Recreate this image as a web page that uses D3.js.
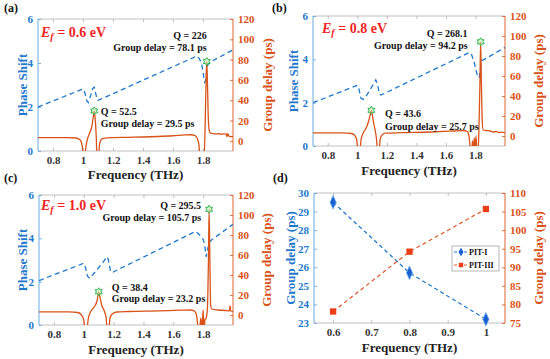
<!DOCTYPE html>
<html><head><meta charset="utf-8">
<script src="https://cdn.jsdelivr.net/npm/d3@7"></script>
<style>body{margin:0;background:#fff}svg{display:block}</style>
</head><body>
<svg id="c" width="550" height="359"></svg>
<script>
// ---------------- DATA ----------------
const freqTicks = [0.8, 1.0, 1.2, 1.4, 1.6, 1.8];
const phaseTicks = [0, 2, 4, 6];
const gdTicks = [0, 20, 40, 60, 80, 100, 120];

// Panel (a) Ef = 0.6 eV
const fA_ph = [0.70, 1.00, 1.01, 1.025, 1.035, 1.05, 1.065, 1.075, 1.085, 1.095, 1.10, 1.76, 1.775, 1.79, 1.80, 1.81, 1.818, 1.826, 1.835, 1.85, 2.00];
const phA   = [2.00, 2.82, 2.70, 2.30, 2.20, 2.50, 2.85, 2.90, 2.60, 2.35, 2.30, 4.32, 4.20, 4.00, 3.60, 3.12, 3.20, 3.80, 3.95, 4.05, 4.60];
const fA_gd = [0.70, 0.80, 0.90, 0.95, 0.97, 0.985, 0.995, 1.003, 1.012, 1.02, 1.03, 1.045, 1.06, 1.068, 1.075, 1.082, 1.088, 1.093, 1.103, 1.11, 1.12, 1.135, 1.20, 1.30, 1.40, 1.50, 1.60, 1.68, 1.72, 1.745, 1.76, 1.772, 1.78, 1.80, 1.808, 1.815, 1.82, 1.825, 1.83, 1.836, 1.842, 1.85, 1.88, 1.90, 1.92, 1.94, 1.955, 1.96, 1.965, 1.975, 2.00];
const gdA   = [3.2, 3.2, 3.1, 2.8, 2.0, 0, -5, -15, -15, -5, 2, 8, 15, 23, 29.5, 20, 5, -15, -15, -4, 1, 2.5, 3.2, 3.5, 3.8, 4.3, 5.0, 5.8, 6.0, 5.5, 3, -3, -15, -15, -15, 20, 55, 78.1, 55, 20, 10, 7.5, 6.8, 7.0, 6.5, 6.8, 6.5, 4, 7, 4.5, 4.2];

// Panel (b) Ef = 0.8 eV
const fB_ph = [0.70, 1.00, 1.01, 1.025, 1.04, 1.06, 1.10, 1.125, 1.135, 1.15, 1.16, 1.76, 1.775, 1.79, 1.80, 1.815, 1.825, 1.835, 1.845, 1.86, 2.00];
const phB   = [2.00, 2.80, 2.65, 2.20, 2.15, 2.30, 2.75, 3.05, 2.90, 2.40, 2.35, 4.32, 4.20, 3.90, 3.60, 3.20, 3.15, 3.60, 3.95, 4.00, 4.55];
const fB_gd = [0.70, 0.90, 0.96, 0.98, 0.995, 1.005, 1.018, 1.025, 1.04, 1.06, 1.075, 1.087, 1.095, 1.103, 1.112, 1.122, 1.13, 1.137, 1.148, 1.155, 1.17, 1.19, 1.30, 1.50, 1.65, 1.72, 1.745, 1.755, 1.762, 1.768, 1.775, 1.78, 1.786, 1.792, 1.798, 1.804, 1.81, 1.818, 1.824, 1.83, 1.835, 1.84, 1.846, 1.852, 1.87, 1.90, 1.92, 1.94, 1.96, 1.98, 2.00];
const gdB   = [3.2, 3.1, 2.5, 1, -3, -15, -15, -4, 3, 8, 14, 21, 25.7, 20, 12, 5, -3, -15, -15, -3, 1.5, 2.8, 3.3, 4.0, 5.0, 5.5, 4.5, 1, -8, -15, -15, -5, -15, -2, -15, 0, -15, -15, 10, 50, 94.2, 55, 15, 6, 5.5, 5.0, 4.0, 4.5, 3.5, 3.8, 3.0];

// Panel (c) Ef = 1.0 eV
const fC_ph = [0.70, 1.00, 1.01, 1.025, 1.04, 1.07, 1.13, 1.155, 1.165, 1.18, 1.19, 1.75, 1.77, 1.80, 1.81, 1.82, 1.83, 1.845, 1.86, 2.00];
const phC   = [2.05, 2.85, 2.70, 2.25, 2.15, 2.40, 2.90, 3.15, 3.00, 2.45, 2.42, 4.32, 4.20, 3.95, 3.70, 3.15, 3.50, 3.85, 3.95, 4.65];
const fC_gd = [0.70, 0.90, 0.96, 0.985, 1.00, 1.008, 1.02, 1.03, 1.045, 1.07, 1.09, 1.097, 1.10, 1.107, 1.12, 1.14, 1.15, 1.157, 1.168, 1.175, 1.19, 1.22, 1.30, 1.50, 1.65, 1.72, 1.745, 1.755, 1.762, 1.768, 1.775, 1.785, 1.792, 1.80, 1.806, 1.812, 1.82, 1.828, 1.835, 1.84, 1.845, 1.85, 1.858, 1.90, 1.95, 1.975, 1.98, 1.985, 2.00];
const gdC   = [3.2, 3.1, 2.5, 0, -5, -15, -15, -4, 3, 8, 15, 21, 23.2, 19, 10, 3, -3, -15, -15, -4, 1, 3, 3.5, 4.2, 4.8, 5.0, 3.5, 0, -8, -15, -15, -3, -15, 5, -15, -5, -3, 5, 50, 105.7, 55, 10, 6, 5, 4.5, 4, 9, 4, 3.5];

// resonance markers and annotations
const resA = [{f: 1.075, gd: 29.5, q: "52.5"}, {f: 1.825, gd: 78.1, q: "226"}];
const resB = [{f: 1.095, gd: 25.7, q: "43.6"}, {f: 1.835, gd: 94.2, q: "268.1"}];
const resC = [{f: 1.10, gd: 23.2, q: "38.4"}, {f: 1.84, gd: 105.7, q: "295.5"}];

// Panel (d)
const freqD = [0.6, 0.8, 1.0];
const pit1 = [29.5, 25.7, 23.2];
const pit3 = [78.1, 94.2, 105.7];
const freqTicksD = [0.6, 0.7, 0.8, 0.9, 1.0];
const leftTicksD = [23, 24, 25, 26, 27, 28, 29, 30];
const rightTicksD = [75, 80, 85, 90, 95, 100, 105, 110];

// ---------------- DRAWING ----------------
const svg = d3.select('#c');
const FONT = '"Liberation Serif","Times New Roman",serif';
const BLUE = '#1f78cc', BLUE_AX = '#5aa3e0', ORANGE = '#d95319', RED = '#ee2424', GREEN = '#2eb34b', FRAME = '#b0b0b0';
const intFmt = d3.format('d');
const freqFmt = d => d === 1 ? '1' : d3.format('.1f')(d);

const hexagram = {draw(ctx, size){
  const r = Math.sqrt(size) / 1.5, ri = r * 0.577;
  for (let i = 0; i < 12; i++) {
    const a = i * Math.PI / 6 - Math.PI / 2, rr = (i % 2) ? ri : r;
    const px = rr * Math.cos(a), py = rr * Math.sin(a);
    if (i === 0) ctx.moveTo(px, py); else ctx.lineTo(px, py);
  }
  ctx.closePath();
}};

function styleAxis(sel, color){
  sel.select('.domain').remove();
  sel.selectAll('.tick line').attr('stroke', color).attr('stroke-width', 0.8);
  sel.selectAll('.tick text').attr('fill', color).attr('font-family', FONT)
     .attr('font-weight', 'bold').attr('font-size', 11);
}

function frame(cfg, leftColor, rightColor){
  svg.append('line').attr('x1', cfg.x0).attr('x2', cfg.x1).attr('y1', cfg.y0).attr('y2', cfg.y0).attr('stroke', FRAME).attr('stroke-width', 0.8);
  svg.append('line').attr('x1', cfg.x0).attr('x2', cfg.x1).attr('y1', cfg.y1).attr('y2', cfg.y1).attr('stroke', FRAME).attr('stroke-width', 0.8);
  svg.append('line').attr('x1', cfg.x0).attr('x2', cfg.x0).attr('y1', cfg.y0).attr('y2', cfg.y1).attr('stroke', leftColor).attr('stroke-width', 0.9);
  svg.append('line').attr('x1', cfg.x1).attr('x2', cfg.x1).attr('y1', cfg.y0).attr('y2', cfg.y1).attr('stroke', rightColor).attr('stroke-width', 0.9);
}

function axes(cfg, x, yL, yR, xT, lT, rT){
  const gx = svg.append('g').attr('transform', `translate(0,${cfg.y1})`)
    .call(d3.axisBottom(x).tickValues(xT).tickSizeInner(-3).tickSizeOuter(0).tickPadding(5).tickFormat(freqFmt));
  styleAxis(gx, '#333');
  gx.selectAll('.tick line').attr('stroke', FRAME);
  const gt = svg.append('g').attr('transform', `translate(0,${cfg.y0})`)
    .call(d3.axisTop(x).tickValues(xT).tickSizeInner(-3).tickSizeOuter(0).tickFormat(''));
  styleAxis(gt, FRAME);
  const gl = svg.append('g').attr('transform', `translate(${cfg.x0},0)`)
    .call(d3.axisLeft(yL).tickValues(lT).tickSizeInner(-3).tickSizeOuter(0).tickPadding(5).tickFormat(intFmt));
  styleAxis(gl, BLUE);
  gl.selectAll('.tick line').attr('stroke', BLUE_AX);
  const gr = svg.append('g').attr('transform', `translate(${cfg.x1},0)`)
    .call(d3.axisRight(yR).tickValues(rT).tickSizeInner(-3).tickSizeOuter(0).tickPadding(5).tickFormat(intFmt));
  styleAxis(gr, ORANGE);
}

function labels(cfg, leftText, rightText, panel){
  const cy = (cfg.y0 + cfg.y1) / 2;
  svg.append('text').attr('x', cfg.lx).attr('y', cy)
    .attr('transform', `rotate(-90 ${cfg.lx} ${cy})`)
    .attr('text-anchor', 'middle').attr('dy', '0.35em')
    .attr('font-family', FONT).attr('font-weight', 'bold').attr('font-size', 13).attr('fill', BLUE).text(leftText);
  svg.append('text').attr('x', cfg.rx).attr('y', cy)
    .attr('transform', `rotate(-90 ${cfg.rx} ${cy})`)
    .attr('text-anchor', 'middle').attr('dy', '0.35em')
    .attr('font-family', FONT).attr('font-weight', 'bold').attr('font-size', 13).attr('fill', ORANGE).text(rightText);
  svg.append('text').attr('x', (cfg.x0 + cfg.x1) / 2).attr('y', cfg.fy)
    .attr('text-anchor', 'middle')
    .attr('font-family', FONT).attr('font-weight', 'bold').attr('font-size', 13).attr('fill', '#222').text('Frequency (THz)');
  svg.append('text').attr('x', cfg.px).attr('y', cfg.py)
    .attr('font-family', FONT).attr('font-weight', 'bold').attr('font-size', 12).attr('fill', '#111').text(panel);
}

function spectrumPanel(cfg, fPh, ph, fGd, gd, res, ef){
  const x = d3.scaleLinear().domain([0.7, 2.0]).range([cfg.x0, cfg.x1]);
  const yL = d3.scaleLinear().domain([0, 6]).range([cfg.y1, cfg.y0]);
  const yR = d3.scaleLinear().domain([-10, 120]).range([cfg.y1, cfg.y0]);
  const id = 'clip' + cfg.name;
  svg.append('clipPath').attr('id', id).append('rect')
    .attr('x', cfg.x0).attr('y', cfg.y0).attr('width', cfg.x1 - cfg.x0).attr('height', cfg.y1 - cfg.y0);

  frame(cfg, BLUE_AX, ORANGE);
  axes(cfg, x, yL, yR, freqTicks, phaseTicks, gdTicks);

  const plot = svg.append('g').attr('clip-path', `url(#${id})`);
  const phLine = d3.line().x(d => x(d[0])).y(d => yL(d[1]));
  plot.append('path').datum(d3.zip(fPh, ph)).attr('d', phLine)
    .attr('fill', 'none').attr('stroke', BLUE).attr('stroke-width', 1.3).attr('stroke-dasharray', '5,3.5');
  const gdLine = d3.line().x(d => x(d[0])).y(d => yR(d[1])).curve(d3.curveMonotoneX);
  plot.append('path').datum(d3.zip(fGd, gd)).attr('d', gdLine)
    .attr('fill', 'none').attr('stroke', ORANGE).attr('stroke-width', 1.3);

  res.forEach((r, i) => {
    const sx = x(r.f), sy = yR(r.gd);
    svg.append('path').attr('d', d3.symbol().type(hexagram).size(36)())
      .attr('transform', `translate(${sx},${sy})`)
      .attr('fill', '#bfeeb5').attr('fill-opacity', 0.55).attr('stroke', GREEN).attr('stroke-width', 1);
    const a = cfg.ann[i];
    svg.append('text').attr('x', sx + a.dx).attr('y', sy + a.dy1)
      .attr('text-anchor', a.anchor).attr('font-family', FONT).attr('font-weight', 'bold').attr('font-size', 10).attr('fill', '#111')
      .text('Q = ' + r.q);
    svg.append('text').attr('x', sx + a.dx).attr('y', sy + a.dy2)
      .attr('text-anchor', a.anchor).attr('font-family', FONT).attr('font-weight', 'bold').attr('font-size', 10).attr('fill', '#111')
      .text('Group delay = ' + r.gd + ' ps');
  });

  const et = svg.append('text').attr('x', cfg.x0 + cfg.ex).attr('y', cfg.y0 + cfg.ey)
    .attr('font-family', FONT).attr('font-weight', 'bold').attr('font-size', 14).attr('fill', RED);
  et.append('tspan').attr('font-style', 'italic').text('E');
  et.append('tspan').attr('font-style', 'italic').attr('font-size', 10).attr('dy', 3).text('f');
  et.append('tspan').attr('dy', -3).text(' = ' + ef + ' eV');

  labels(cfg, 'Phase Shift', 'Group delay (ps)', cfg.panel);
}

spectrumPanel({name: 'a', panel: '(a)', x0: 38, x1: 233, y0: 19, y1: 151, lx: 22, rx: 267, fy: 179, px: 4, py: 12, ex: 3, ey: 18,
  ann: [{dx: 6.5, dy1: 4.6, dy2: 16.6, anchor: 'start'}, {dx: 0, dy1: -23, dy2: -11, anchor: 'end'}]},
  fA_ph, phA, fA_gd, gdA, resA, '0.6');
spectrumPanel({name: 'b', panel: '(b)', x0: 313, x1: 505, y0: 16, y1: 146, lx: 293, rx: 538, fy: 175, px: 272, py: 12, ex: 9, ey: 17,
  ann: [{dx: 13.7, dy1: 6.2, dy2: 19.2, anchor: 'start'}, {dx: -13, dy1: -5, dy2: 7, anchor: 'end'}]},
  fB_ph, phB, fB_gd, gdB, resB, '0.8');
spectrumPanel({name: 'c', panel: '(c)', x0: 39, x1: 233, y0: 195, y1: 325, lx: 22, rx: 266, fy: 354, px: 4, py: 182, ex: 2, ey: 15,
  ann: [{dx: 13, dy1: -1.3, dy2: 9.7, anchor: 'start'}, {dx: -8, dy1: 0, dy2: 12, anchor: 'end'}]},
  fC_ph, phC, fC_gd, gdC, resC, '1.0');

// Panel (d)
(function(){
  const cfg = {x0: 314, x1: 505, y0: 193, y1: 323, lx: 290, rx: 538, fy: 352, px: 273, py: 182};
  const x = d3.scaleLinear().domain([0.55, 1.05]).range([cfg.x0, cfg.x1]);
  const yL = d3.scaleLinear().domain([23, 30]).range([cfg.y1, cfg.y0]);
  const yR = d3.scaleLinear().domain([75, 110]).range([cfg.y1, cfg.y0]);
  frame(cfg, BLUE_AX, ORANGE);
  axes(cfg, x, yL, yR, freqTicksD, leftTicksD, rightTicksD);

  const l1 = d3.line().x(d => x(d[0])).y(d => yL(d[1]));
  const l3 = d3.line().x(d => x(d[0])).y(d => yR(d[1]));
  svg.append('path').datum(d3.zip(freqD, pit1)).attr('d', l1).attr('fill', 'none').attr('stroke', BLUE).attr('stroke-width', 1.2).attr('stroke-dasharray', '4,3');
  svg.append('path').datum(d3.zip(freqD, pit3)).attr('d', l3).attr('fill', 'none').attr('stroke', '#e2582a').attr('stroke-width', 1.2).attr('stroke-dasharray', '4,3');
  const diamond = d3.symbol().type(d3.symbolDiamond).size(45)();
  const square = d3.symbol().type(d3.symbolSquare).size(40)();
  freqD.forEach((f, i) => {
    svg.append('path').attr('d', diamond).attr('transform', `translate(${x(f)},${yL(pit1[i])}) scale(0.85,1.1)`)
      .attr('fill', '#1a5fd0').attr('stroke', '#6fb0ee').attr('stroke-width', 0.8);
    svg.append('path').attr('d', square).attr('transform', `translate(${x(f)},${yR(pit3[i])})`)
      .attr('fill', '#ea3d18');
  });

  // legend
  const lg = svg.append('g');
  lg.append('rect').attr('x', 452).attr('y', 246).attr('width', 47).attr('height', 25).attr('fill', '#fff').attr('stroke', '#999').attr('stroke-width', 0.7);
  const items = [{name: 'PIT-I', color: BLUE, sym: diamond, fill: '#1a5fd0', y: 252}, {name: 'PIT-III', color: '#e2582a', sym: square, fill: '#ea3d18', y: 265}];
  items.forEach(it => {
    lg.append('line').attr('x1', 454).attr('x2', 468).attr('y1', it.y).attr('y2', it.y).attr('stroke', it.color).attr('stroke-width', 1).attr('stroke-dasharray', '3,2');
    lg.append('path').attr('d', it.sym).attr('transform', `translate(461,${it.y}) scale(0.7)`).attr('fill', it.fill);
    lg.append('text').attr('x', 469).attr('y', it.y).attr('dy', '0.35em').attr('font-family', FONT).attr('font-weight', 'bold').attr('font-size', 8).attr('fill', '#111').text(it.name);
  });

  labels(cfg, 'Group delay (ps)', 'Group delay (ps)', '(d)');
})();
</script>
</body></html>
